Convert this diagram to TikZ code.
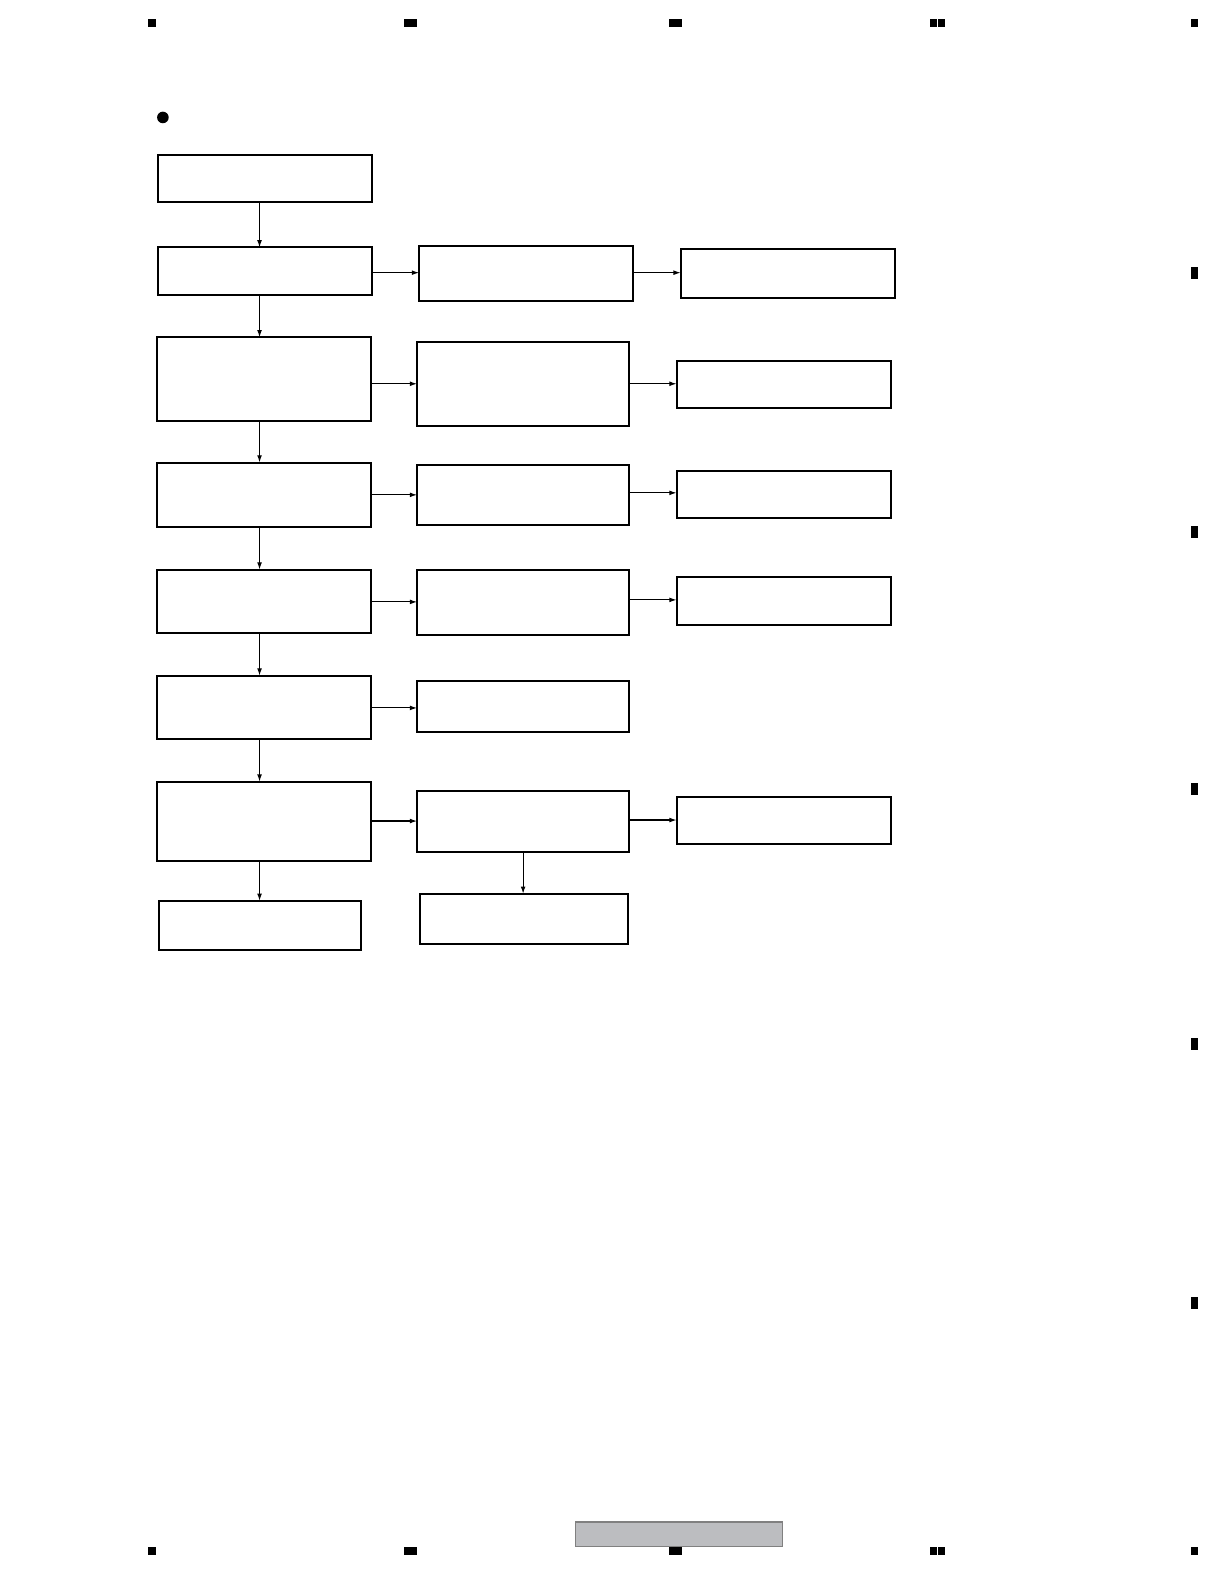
\documentclass[tikz,border=0pt]{standalone}
\usetikzlibrary{arrows.meta}
\newcommand{\bx}[5]{\node[box,minimum width={(#4-#2)*0.50495pt},minimum height={(#5-#3)*0.50495pt}] (#1) at ({(#2+#4)/2},{(#3+#5)/2}) {};}
\newcommand{\mk}[4]{\fill[markfill] (#1,#2) rectangle (#3,#4);}
\begin{document}
\begin{tikzpicture}[x=0.50495pt,y=-0.50495pt,
  box/.style={draw=black,line width=1pt,inner sep=0pt,outer sep=0pt,anchor=center},
  arr/.style={line width=0.55pt,-{Latex[length=3.6pt,width=2.4pt]}},
  markfill/.style={fill=black},
  ]
\useasboundingbox (0,0) rectangle (1212,1568.5);
% bullet
\fill (161.3,116.3) circle (2.9pt);
% column 1
\bx{A1}{156}{153}{368}{200}
\bx{A2}{156}{245}{368}{292}
\bx{A3}{155}{334}{367}{417}
\bx{A4}{155}{458}{367}{522}
\bx{A5}{155}{564}{367}{627}
\bx{A6}{155}{669}{367}{732}
\bx{A7}{155}{774}{367}{853}
\bx{A8}{157}{892}{357}{941}
% column 2
\bx{B2}{415}{244}{627}{298}
\bx{B3}{413}{339}{623}{422}
\bx{B4}{413}{460}{623}{520}
\bx{B5}{413}{564}{623}{629}
\bx{B6}{413}{674}{623}{725}
\bx{B7}{413}{783}{623}{844}
\bx{B8}{416}{885}{622}{935}
% column 3
\bx{C2}{674}{247}{886}{295}
\bx{C3}{670}{357}{882}{404}
\bx{C4}{670}{466}{882}{513}
\bx{C5}{670}{571}{882}{619}
\bx{C7}{670}{789}{882}{836}
% vertical connectors
\coordinate (vx) at (257,0);
\coordinate (vy) at (518,0);
\draw[arr] (A1.south -| vx) -- (A2.north -| vx);
\draw[arr] (A2.south -| vx) -- (A3.north -| vx);
\draw[arr] (A3.south -| vx) -- (A4.north -| vx);
\draw[arr] (A4.south -| vx) -- (A5.north -| vx);
\draw[arr] (A5.south -| vx) -- (A6.north -| vx);
\draw[arr] (A6.south -| vx) -- (A7.north -| vx);
\draw[arr] (A7.south -| vx) -- (A8.north -| vx);
\draw[arr] (B7.south -| vy) -- (B8.north -| vy);
% horizontal connectors
\coordinate (h2) at (0,270);
\coordinate (h3) at (0,380);
\coordinate (h4a) at (0,490);
\coordinate (h4b) at (0,488);
\coordinate (h5a) at (0,596);
\coordinate (h5b) at (0,594);
\coordinate (h6) at (0,701);
\coordinate (h7a) at (0,813);
\coordinate (h7b) at (0,812);
\draw[arr] (A2.east |- h2) -- (B2.west |- h2);
\draw[arr] (B2.east |- h2) -- (C2.west |- h2);
\draw[arr] (A3.east |- h3) -- (B3.west |- h3);
\draw[arr] (B3.east |- h3) -- (C3.west |- h3);
\draw[arr] (A4.east |- h4a) -- (B4.west |- h4a);
\draw[arr] (B4.east |- h4b) -- (C4.west |- h4b);
\draw[arr] (A5.east |- h5a) -- (B5.west |- h5a);
\draw[arr] (B5.east |- h5b) -- (C5.west |- h5b);
\draw[arr] (A6.east |- h6) -- (B6.west |- h6);
\draw[arr] (A7.east |- h7a) -- (B7.west |- h7a);
\draw[arr] (B7.east |- h7b) -- (C7.west |- h7b);
% page registration marks (top)
\mk{147}{19}{154}{27}
\mk{400}{19}{413}{27}
\mk{662}{19}{675}{27}
\mk{921}{19}{928}{27}\mk{929}{19}{936}{27}
\mk{1179}{19}{1186}{27}
% bottom
\mk{147}{1532}{154}{1540}
\mk{400}{1532}{413}{1540}
\mk{662}{1532}{675}{1540}
\mk{921}{1532}{928}{1540}\mk{929}{1532}{936}{1540}
\mk{1179}{1532}{1186}{1540}
% right
\mk{1179}{264}{1186}{276}
\mk{1179}{521}{1186}{533}
\mk{1179}{775}{1186}{787}
\mk{1179}{1028}{1186}{1040}
\mk{1179}{1284}{1186}{1296}
% gray footer plate
\draw[fill={rgb,255:red,188;green,189;blue,192},draw={rgb,255:red,128;green,128;blue,128},line width=0.6pt] (570,1507) rectangle (775,1531);
\end{tikzpicture}
\end{document}
